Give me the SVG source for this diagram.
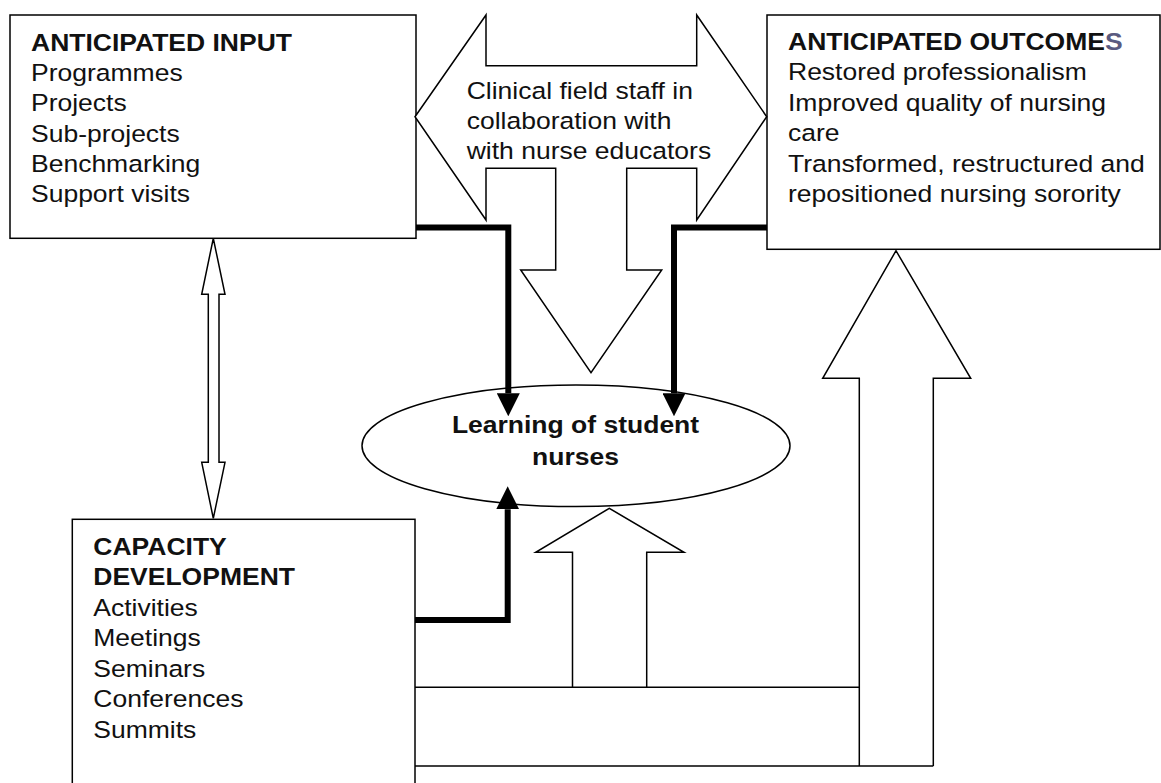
<svg xmlns="http://www.w3.org/2000/svg" width="1161" height="783" viewBox="0 0 1161 783">
<style>
.box{fill:#fff;stroke:#000;stroke-width:1.5}
.thin{fill:#fff;stroke:#000;stroke-width:1.5;stroke-linejoin:miter}
.line{fill:none;stroke:#000;stroke-width:1.5}
.thick{fill:none;stroke:#000;stroke-width:6;stroke-linejoin:miter}
.t{font-family:"Liberation Sans",Arial,sans-serif;font-size:26.5px;fill:#111}
.b{font-weight:bold}
</style>
<defs>
<marker id="ah" viewBox="0 0 23 23" refX="0" refY="11.5" markerWidth="23" markerHeight="23" markerUnits="userSpaceOnUse" orient="auto">
<path d="M0,0 L23,11.5 L0,23 z" fill="#000"/>
</marker>
</defs>
<rect width="1161" height="783" fill="#fff"/>

<g id="input">
<rect class="box" x="10" y="15" width="406" height="223.3"/>
<text class="t" transform="translate(31,50.5) scale(1,0.92)"><tspan class="b" x="0" y="0">ANTICIPATED INPUT</tspan><tspan x="0" dy="33.04">Programmes</tspan><tspan x="0" dy="33.04">Projects</tspan><tspan x="0" dy="33.04">Sub-projects</tspan><tspan x="0" dy="33.04">Benchmarking</tspan><tspan x="0" dy="33.04">Support visits</tspan></text>
</g>

<g id="outcomes">
<rect class="box" x="767" y="15" width="393" height="234.3"/>
<text class="t" transform="translate(788,50) scale(1,0.92)"><tspan class="b" x="0" y="0">ANTICIPATED OUTCOME<tspan fill="#5a5a80">S</tspan></tspan><tspan x="0" dy="33.04">Restored professionalism</tspan><tspan x="0" dy="33.04">Improved quality of nursing</tspan><tspan x="0" dy="33.04">care</tspan><tspan x="0" dy="33.04">Transformed, restructured and</tspan><tspan x="0" dy="33.04">repositioned nursing sorority</tspan></text>
</g>

<g id="capacity">
<rect class="box" x="72.3" y="519.3" width="342.7" height="290"/>
<text class="t" transform="translate(93.3,555) scale(1,0.92)"><tspan class="b" x="0" y="0">CAPACITY</tspan><tspan class="b" x="0" dy="33.15">DEVELOPMENT</tspan><tspan x="0" dy="33.15">Activities</tspan><tspan x="0" dy="33.15">Meetings</tspan><tspan x="0" dy="33.15">Seminars</tspan><tspan x="0" dy="33.15">Conferences</tspan><tspan x="0" dy="33.15">Summits</tspan></text>
</g>

<g id="clinical">
<polygon class="thin" points="415,116.7 486,15 486,65.7 696.7,65.7 696.7,15 766.7,116.7 696.7,220 696.7,168.3 626.7,168.3 626.7,270 661.7,270 591,372.7 520.7,270 555.7,270 555.7,168.3 486,168.3 486,220"/>
<text class="t" transform="translate(466.7,98.7) scale(1,0.92)"><tspan x="0" y="0">Clinical field staff in</tspan><tspan x="0" dy="32.6">collaboration with</tspan><tspan x="0" dy="32.6">with nurse educators</tspan></text>
</g>

<g id="learning">
<ellipse class="box" cx="576" cy="445.8" rx="214" ry="60.8"/>
<text class="t b" text-anchor="middle" transform="translate(575.5,433.3) scale(1,0.92)"><tspan x="0" y="0">Learning of student</tspan><tspan x="0" dy="34.46">nurses</tspan></text>
</g>

<g id="connectors">
<polygon class="thin" points="213.3,238.3 225,294.3 219,294.3 219,462.3 225,462.3 213.3,518.3 201.7,462.3 208.3,462.3 208.3,294.3 201.7,294.3"/>
<path class="thick" d="M416,227.5 H508.3 V393.3" marker-end="url(#ah)"/>
<path class="thick" d="M767,227.5 H674 V393.3" marker-end="url(#ah)"/>
<path class="thick" d="M415,620 H507.7 V509.3" marker-end="url(#ah)"/>
<path class="line" d="M415,687.3 H859.3"/>
<path class="line" d="M415,766 H933.3"/>
<polyline class="line" points="572.5,687.3 572.5,552.3 535.7,552.3 609.3,508.3 684,552.3 646.7,552.3 646.7,687.3"/>
<polyline class="line" points="859.3,766 859.3,378.3 822.7,378.3 896,250.7 970.7,378.3 933.3,378.3 933.3,766"/>
</g>
</svg>
